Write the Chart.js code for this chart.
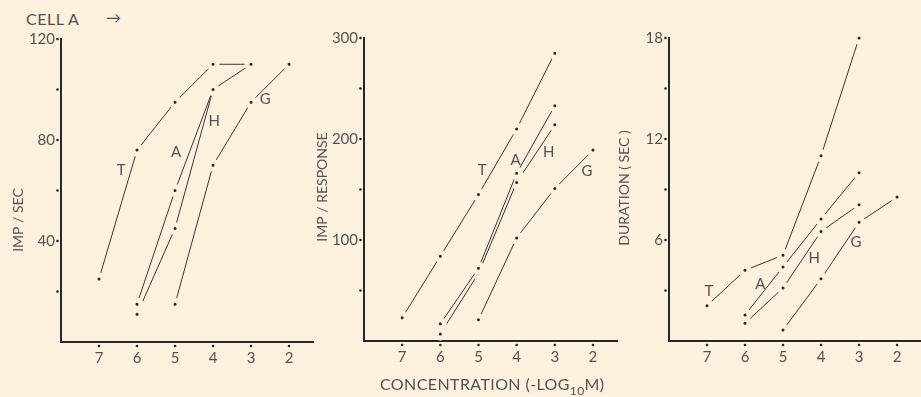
<!DOCTYPE html>
<html>
<head>
<meta charset="utf-8">
<script src="https://cdn.jsdelivr.net/npm/chart.js@4.4.1/dist/chart.umd.min.js"></script>
<style>
  html, body { margin: 0; padding: 0; background: #fcf1df; }
  body { width: 921px; height: 397px; position: relative; overflow: hidden; font-family: Lato, sans-serif; color: #555049; }
  canvas { position: absolute; top: 0; }
  #cell { position: absolute; left: 26px; top: 9px; font-size: 16px; letter-spacing: 0.5px; }
  #arrow { position: absolute; left: 106px; top: 8px; font-size: 15px; }
  #xtitle { position: absolute; left: 380px; top: 374px; font-size: 16px; white-space: nowrap; letter-spacing: 0.4px; }
  #xtitle sub { font-size: 12px; vertical-align: -5px; }
</style>
</head>
<body>
<div id="cell">CELL A</div>
<div id="arrow">→</div>
<canvas id="impSec" width="315" height="397" style="left:0px"></canvas>
<canvas id="impResp" width="315" height="397" style="left:305px"></canvas>
<canvas id="duration" width="311" height="397" style="left:610px"></canvas>
<div id="xtitle">CONCENTRATION (-LOG<sub>10</sub>M)</div>
<script>
const concentrations = [7, 6, 5, 4, 3, 2];
const seriesNames = ['T', 'A', 'H', 'G'];

// impulses / sec
const impSecT = [25, 76, 95, 110, 110, null];
const impSecA = [null, 15, 60, 100, null, null];
const impSecH = [null, 11, 45, 100, 110, null];
const impSecG = [null, null, 15, 70, 95, 110];

// impulses / response
const impRespT = [23, 84, 145, 210, 285, null];
const impRespA = [null, 17, 72, 166, 233, null];
const impRespH = [null, 7, 67, 157, 214, null];
const impRespG = [null, null, 21, 102, 151, 189];

// duration (sec)
const durationT = [2.1, 4.2, 5.1, 11, 18, null];
const durationA = [null, 1.55, 4.4, 7.25, 10, null];
const durationH = [null, 1.05, 3.15, 6.5, 8.1, null];
const durationG = [null, null, 0.65, 3.7, 7.05, 8.55];

// where the letters T, A, H, G sit, in data units [concentration, value]
const impSecLabelAt = [[6.42, 68], [4.97, 75], [3.97, 87.5], [2.63, 96]];
const impRespLabelAt = [[4.9, 169], [4.03, 179], [3.16, 187], [2.16, 168]];
const durationLabelAt = [[6.95, 2.97], [5.6, 3.39], [4.18, 4.93], [3.08, 5.88]];

const bg = '#fcf1df';
const ink = '#2b2622';
const lineInk = '#3a3530';
const textColor = '#57524b';

const toPoints = (values) => concentrations
  .map((c, i) => ({ x: c, y: values[i] }))
  .filter((p) => p.y !== null);

const figureMarks = {
  id: 'figureMarks',
  afterDraw(chart, args, opts) {
    const { ctx, chartArea } = chart;
    const xs = chart.scales.x;
    const ys = chart.scales.y;
    ctx.save();
    ctx.fillStyle = ink;
    xs.ticks.forEach((t) => {
      ctx.beginPath();
      ctx.arc(xs.getPixelForValue(t.value), chartArea.bottom + 4, 1.3, 0, Math.PI * 2);
      ctx.fill();
    });
    ys.ticks.forEach((t) => {
      if (t.value <= 0) return;
      ctx.beginPath();
      ctx.arc(chartArea.left - 3.5, ys.getPixelForValue(t.value), 1.3, 0, Math.PI * 2);
      ctx.fill();
    });

    ctx.fillStyle = textColor;
    ctx.font = '15px Lato';
    ctx.textAlign = 'center';
    ctx.textBaseline = 'middle';
    opts.labelAt.forEach((p, i) => {
      ctx.fillText(seriesNames[i], xs.getPixelForValue(p[0]), ys.getPixelForValue(p[1]));
    });

    ctx.translate(opts.titleX, opts.titleY);
    ctx.rotate(-Math.PI / 2);
    ctx.font = '14px Lato';
    ctx.fillText(opts.title, 0, 0);
    ctx.restore();
  },
};

const makePanel = (id, series, yMax, yStep, labelStep, yWidth, padding, marks) => {
  const ctx = document.getElementById(id).getContext('2d');
  // eslint-disable-next-line no-new
  new Chart(ctx, {
    type: 'line',
    data: {
      datasets: series.map((values, i) => ({
        label: seriesNames[i],
        data: toPoints(values),
        borderColor: lineInk,
        borderWidth: 1,
        // the cream ring makes lines stop short of each dot, as in the drawing
        pointRadius: 4,
        pointBackgroundColor: ink,
        pointBorderColor: bg,
        pointBorderWidth: 5,
        tension: 0,
        clip: { top: 8, left: 0, right: 0, bottom: 0 },
      })),
    },
    options: {
      responsive: false,
      animation: false,
      layout: { padding, autoPadding: false },
      plugins: { legend: { display: false }, tooltip: { enabled: false }, figureMarks: marks },
      scales: {
        x: {
          type: 'linear',
          reverse: true,
          min: 1.37,
          max: 8,
          afterBuildTicks: (s) => { s.ticks = concentrations.map((v) => ({ value: v })); },
          afterFit: (s) => { s.height = 40; },
          grid: { display: false, drawTicks: false },
          border: { color: ink, width: 2 },
          ticks: { color: textColor, font: { family: 'Lato', size: 15 }, padding: 7 },
        },
        y: {
          min: 0,
          max: yMax,
          afterFit: (s) => { s.width = yWidth; },
          grid: { display: false, drawTicks: false },
          border: { color: ink, width: 2 },
          ticks: {
            stepSize: yStep,
            color: textColor,
            font: { family: 'Lato', size: 15 },
            padding: 6,
            callback: (v) => (v > 0 && v % labelStep === 0 ? v : ''),
          },
        },
      },
    },
    plugins: [figureMarks],
  });
};

makePanel('impSec', [impSecT, impSecA, impSecH, impSecG], 120, 20, 40, 61,
  { top: 39, bottom: 15, left: 0, right: 2 },
  { labelAt: impSecLabelAt, title: 'IMP / SEC', titleX: 18, titleY: 220 });

makePanel('impResp', [impRespT, impRespA, impRespH, impRespG], 300, 50, 100, 59,
  { top: 38, bottom: 16, left: 0, right: 3 },
  { labelAt: impRespLabelAt, title: 'IMP / RESPONSE', titleX: 17, titleY: 187 });

makePanel('duration', [durationT, durationA, durationH, durationG], 18, 3, 6, 59,
  { top: 38, bottom: 16, left: 0, right: 0 },
  { labelAt: durationLabelAt, title: 'DURATION ( SEC )', titleX: 14, titleY: 188 });
</script>
</body>
</html>
